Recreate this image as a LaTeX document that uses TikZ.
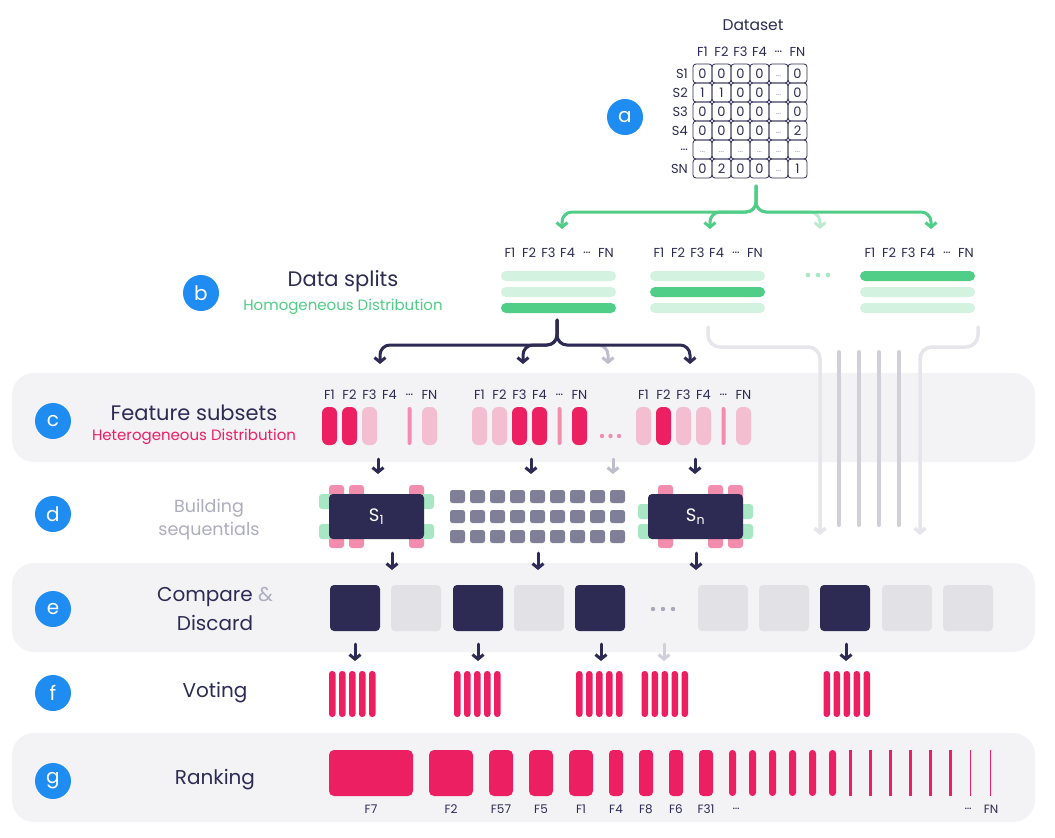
\documentclass[tikz,border=0pt]{standalone}
\usepackage{fontspec}
\setmainfont{Poppins}
\usetikzlibrary{arrows.meta}
\definecolor{navy}{HTML}{2D2B53}
\definecolor{crim}{HTML}{EC1F63}
\definecolor{pinklt}{HTML}{F2BED0}
\definecolor{pinkmd}{HTML}{F28DAE}
\definecolor{grn}{HTML}{50CD86}
\definecolor{grnlt}{HTML}{D4F2E0}
\definecolor{grntab}{HTML}{A9E7C4}
\definecolor{grnarr}{HTML}{BDEBD1}
\definecolor{band}{HTML}{F3F3F6}
\definecolor{boxlt}{HTML}{E1E1E6}
\definecolor{sq}{HTML}{7F7F97}
\definecolor{stepblue}{HTML}{1E8CF0}
\definecolor{txtgray}{HTML}{AEADBD}
\definecolor{arrgray}{HTML}{BDBDCC}
\definecolor{linelt}{HTML}{E5E5EB}
\definecolor{linemd}{HTML}{D0D0DA}
\definecolor{dotgray}{HTML}{A8A8BA}
\tikzset{
  hd/.style={font=\fontsize{13}{14}\selectfont,text=navy,inner sep=0},
  cell/.style={font=\fontsize{13}{14}\selectfont,text=navy,inner sep=0},
  celldots/.style={font=\fontsize{9}{10}\selectfont,text=dotgray,inner sep=0},
  lbl/.style={font=\fontsize{20}{24}\selectfont,text=navy,inner sep=0},
  sublbl/.style={font=\fontsize{15}{17}\selectfont,inner sep=0},
  stepcirc/.style={circle,fill=stepblue,text=white,minimum size=36,inner sep=0,font=\fontsize{20}{20}\selectfont},
  arr/.style={line width=3,->},
}
\begin{document}
\begin{tikzpicture}[x=1pt,y=-1pt,line join=round,line cap=round,>={Straight Barb[length=4.5pt,width=11pt]}]
\fill[white] (0,0) rectangle (1055,838);
\useasboundingbox (0,0) rectangle (1055,838);
\foreach \y in {373,563,733}
  \fill[band,rounded corners=22] (12,\y) rectangle (1035,\y+89);

\foreach \n/\x/\y in {a/625/117,b/201/293,c/53/421,d/53/514,e/53/609,f/53/693,g/53/781}
  \node[stepcirc] (step-\n) at (\x,\y) {\n};

\node[lbl,font=\fontsize{21}{24}\selectfont] (t-b) at (343,281) {Data splits};
\node[sublbl,text=grn] (t-b2) at (343,307) {Homogeneous Distribution};
\node[lbl,font=\fontsize{21}{24}\selectfont] (t-c) at (194,413) {Feature subsets};
\node[sublbl,text=crim] (t-c2) at (194,437) {Heterogeneous Distribution};
\node[lbl,text=txtgray,font=\fontsize{17.5}{20}\selectfont] (t-d) at (209,508) {Building};
\node[lbl,text=txtgray,font=\fontsize{17.5}{20}\selectfont] (t-d2) at (209,531) {sequentials};
\node[lbl] (t-e) at (215,597) {Compare {\color{txtgray}\&}};
\node[lbl] (t-e2) at (215,623) {Discard};
\node[lbl] (t-f) at (215,693) {Voting};
\node[lbl] (t-g) at (215,780) {Ranking};

\node[font=\fontsize{15.5}{18}\selectfont,text=navy] (ds) at (753,25) {Dataset};
\foreach \t [count=\i from 0] in {F1,F2,F3,F4,…,FN}
  \node[hd] (ds-h\i) at (702.5+19*\i,52) {\t};
\foreach \t [count=\i from 0] in {S1,S2,S3,S4,…,SN}
  \node[hd,anchor=east] (ds-r\i) at (688,73.5+19*\i) {\t};
\foreach \r in {0,...,5}
  \foreach \c in {0,...,5}
    \draw[navy,line width=0.8,rounded corners=3] (693+19*\c,64+19*\r) rectangle +(19,19);
\foreach \y/\a/\b/\c/\d/\e in {73.5/0/0/0/0/0,92.5/1/1/0/0/0,111.5/0/0/0/0/0,130.5/0/0/0/0/2,168.5/0/2/0/0/1}{
  \node[cell] at (702.5,\y) {\a};
  \node[cell] at (721.5,\y) {\b};
  \node[cell] at (740.5,\y) {\c};
  \node[cell] at (759.5,\y) {\d};
  \node[cell] at (797.5,\y) {\e};
  \node[celldots] at (778.5,\y+2) {…};
}
\foreach \c in {0,...,5}
  \node[celldots] at (702.5+19*\c,151.5) {…};

\draw[grnarr,arr,rounded corners=10] (756,186) |- (820,212) -- (820,229);
\foreach \x in {562,710,931}
  \draw[grn,arr,rounded corners=10] (756,186) |- (\x,212) -- (\x,229);

\foreach \gx in {510,659,870}
  \foreach \t [count=\i from 0] in {F1,F2,F3,F4,…,FN}
    \node[hd] at (\gx+19.2*\i,253) {\t};
\foreach \x/\a/\b/\c in {501/grnlt/grnlt/grn,650/grnlt/grn/grnlt,860/grn/grnlt/grnlt}{
  \fill[\a,rounded corners=5] (\x,271) rectangle +(115,10);
  \fill[\b,rounded corners=5] (\x,287) rectangle +(115,10);
  \fill[\c,rounded corners=5] (\x,303) rectangle +(115,10);
}
\foreach \x in {808,818,828}
  \fill[grntab] (\x,275) circle (2.3);

\draw[linelt,line width=3.5,rounded corners=12,->] (708,327) |- (820,347) -- (820,535);
\draw[linelt,line width=3.5,rounded corners=12,->] (978,327) |- (920,347) -- (920,535);
\foreach \x in {839,859,879,899}
  \draw[linemd,line width=4] (\x,352) -- (\x,525);

\draw[arrgray,arr,rounded corners=10] (557,320) |- (608,345) -- (608,364);
\foreach \x in {380,523,690}
  \draw[navy,arr,rounded corners=10] (557,320) |- (\x,345) -- (\x,364);

\foreach \gx in {322,472,636}
  \foreach \t [count=\i from 0] in {F1,F2,F3,F4,…,FN}
    \node[hd] at (\gx+7.5+20*\i,395) {\t};
\foreach \x/\c in {322/crim,342/crim,362/pinklt,422/pinklt,472/pinklt,492/pinklt,512/crim,532/crim,572/crim,636/pinklt,656/crim,676/pinklt,696/pinklt,736/pinklt}
  \fill[\c,rounded corners=6] (\x,407) rectangle +(15,38);
\foreach \x in {407.5,557.5,721.5}
  \fill[pinkmd,rounded corners=2] (\x,407) rectangle +(4,38);
\foreach \x in {602,610.5,619}
  \fill[pinkmd] (\x,436) circle (2.2);

\foreach \x/\c in {378/navy,531/navy,613/arrgray,695/navy}
  \draw[\c,arr] (\x,459) -- (\x,474);

\foreach \x in {329,349,409,658,708,728}{
  \fill[pinkmd,rounded corners=3] (\x,485) rectangle +(15,15);
  \fill[pinkmd,rounded corners=3] (\x,533) rectangle +(15,15);
}
\foreach \x in {319,420}
  \foreach \y in {494,524}
    \fill[grntab,rounded corners=3] (\x,\y) rectangle +(14,15);
\foreach \x in {638,739}
  \foreach \y in {504,524}
    \fill[grntab,rounded corners=3] (\x,\y) rectangle +(14,15);
\fill[navy,rounded corners=4] (329,494) rectangle (424,539);
\fill[navy,rounded corners=4] (648,494) rectangle (743,539);
\node[text=white,font=\fontsize{18}{20}\selectfont] (s-1) at (376.5,516.5) {S\textsubscript{1}};
\node[text=white,font=\fontsize{18}{20}\selectfont] (s-n) at (695.5,516.5) {S\textsubscript{n}};
\foreach \i in {0,...,8}
  \foreach \y in {490,510,530}
    \fill[sq,rounded corners=2.5] (450+20*\i,\y) rectangle +(15,13);

\foreach \x in {392,538,696}
  \draw[navy,arr] (\x,553) -- (\x,570);

\foreach \x/\c in {330/navy,391/boxlt,453/navy,514/boxlt,575/navy,698/boxlt,759/boxlt,820/navy,882/boxlt,943/boxlt}
  \fill[\c,rounded corners=4] (\x,585) rectangle +(50,46);
\foreach \x in {653,663,673}
  \fill[dotgray] (\x,609) circle (2.2);

\foreach \x/\c in {355/navy,478/navy,601/navy,664/linemd,846/navy}
  \draw[\c,arr] (\x,644) -- (\x,661);

\foreach \gx in {329,454,576,641.5,823.5}
  \foreach \i in {0,...,4}
    \fill[crim,rounded corners=3] (\gx+10*\i,671) rectangle +(6.5,46);

\foreach \x/\w/\r in {329/84/5,429/44/5,489/24/5,529/24/5,569/24/5,609/14/4,639/14/4,669/14/4,699/14/4}
  \fill[crim,rounded corners=\r] (\x,750) rectangle +(\w,46);
\foreach \i in {0,...,5}
  \fill[crim,rounded corners=3.4] (729+20*\i,750) rectangle +(7,46);
\foreach \i in {0,...,5}
  \fill[crim] (849+20*\i,750) rectangle +(3,46);
\foreach \x in {969.5,989.5}
  \fill[crim] (\x,750) rectangle +(1.3,46);
\foreach \x/\t [count=\i] in {371/F7,451/F2,501/F57,541/F5,581/F1,616/F4,646/F8,676/F6,706/F31,736/…,968/…,991/FN}
  \node[hd,font=\fontsize{12}{13}\selectfont] (rk-\i) at (\x,809) {\t};
\end{tikzpicture}
\end{document}
